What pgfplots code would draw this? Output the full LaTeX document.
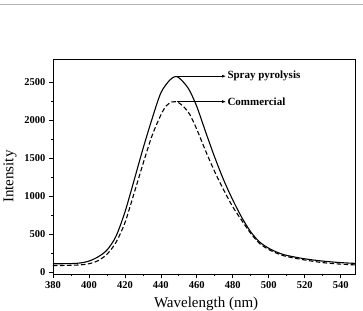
\documentclass[border=0pt]{standalone}
\usepackage{fontspec}
\setmainfont{Liberation Serif}
\usepackage{pgfplots}
\pgfplotsset{compat=1.18}
\usetikzlibrary{arrows.meta}
\begin{document}
\begin{tikzpicture}[x=1pt,y=1pt]
\draw[gray!60, line width=0.8pt] (0,306) -- (363,306);
\begin{axis}[
  at={(53pt,36pt)}, anchor=south west,
  scale only axis, width=302pt, height=214.5pt,
  xmin=380, xmax=548, ymin=-25, ymax=2800,
  xtick={380,400,...,540}, ytick={0,500,...,2500},
  minor x tick num=1, minor y tick num=1,
  tick align=outside, tick pos=left,
  major tick length=4pt, minor tick length=2pt,
  axis line style={line width=0.8pt},
  tick style={line width=0.7pt, black},
  ticklabel style={font=\fontsize{10.5}{12}\selectfont\bfseries},
  /pgf/number format/assume math mode=true,
  /pgf/number format/1000 sep={},
  xlabel={Wavelength (nm)}, ylabel={Intensity},
  label style={font=\fontsize{15}{18}\selectfont},
  xlabel style={at={(rel axis cs:0.507,0)}, anchor=base, yshift=-33pt},
  ylabel style={at={(rel axis cs:-0.142,0.454)}, anchor=center},
  clip=false,
]
\addplot[black, line width=1.1pt, smooth] coordinates {
(380,110) (390,112) (395,120) (400,145) (405,200) (410,290) (415,470)
(420,790) (425,1200) (430,1620) (435,2010) (440,2360) (445,2530)
(448,2575) (450,2560) (453,2490) (456,2390) (460,2180) (465,1840)
(470,1510) (475,1210) (480,950) (485,720) (490,530) (495,395)
(500,315) (505,258) (510,220) (520,175) (530,145) (540,125) (548,115)
};
\addplot[black, line width=1.1pt, smooth, dash pattern=on 4.5pt off 2.5pt] coordinates {
(380,85) (390,90) (395,95) (400,110) (405,150) (410,235) (415,390)
(420,650) (425,1030) (430,1420) (435,1790) (440,2070) (443,2190)
(446,2240) (448,2245) (450,2230) (453,2170) (456,2080) (460,1880)
(465,1590) (470,1320) (475,1080) (480,860) (485,680) (490,510)
(495,375) (500,298) (505,243) (510,205) (520,160) (530,125) (540,105) (548,95)
};
\draw[line width=0.8pt, -{Latex[length=4pt,width=3pt]}] (axis cs:448,2580) -- (axis cs:476.3,2580)
  node[right, inner sep=1pt, font=\fontsize{11}{13}\selectfont\bfseries] {Spray pyrolysis};
\draw[line width=0.8pt, -{Latex[length=4pt,width=3pt]}] (axis cs:449,2245) -- (axis cs:476.3,2245)
  node[right, inner sep=1pt, font=\fontsize{11}{13}\selectfont\bfseries] {Commercial};
\end{axis}
\pgfresetboundingbox
\path (0,0) rectangle (363,310);
\end{tikzpicture}
\end{document}
